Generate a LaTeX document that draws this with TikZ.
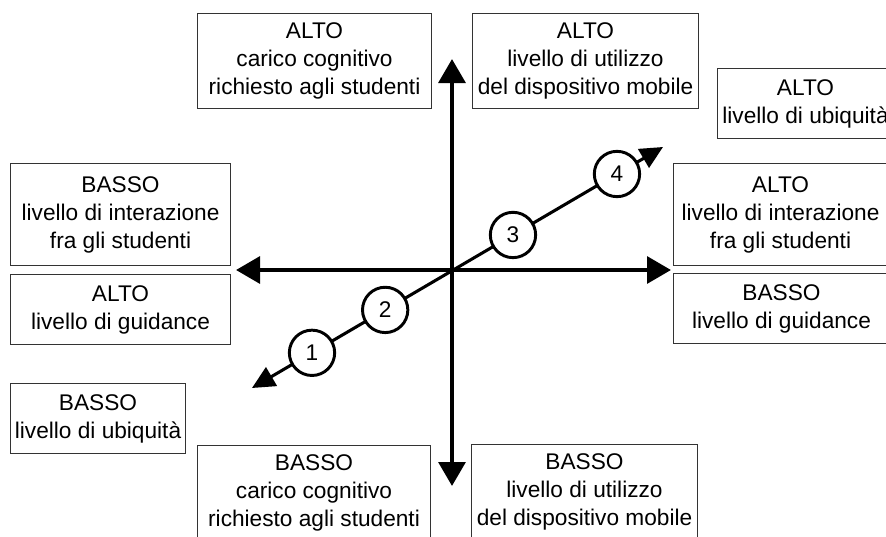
\documentclass[tikz,border=0pt]{standalone}
\usepackage{fontspec}
\setmainfont{Liberation Sans}
\usetikzlibrary{arrows.meta,calc}

\begin{document}
\begin{tikzpicture}[
    x=0.75pt, y=-0.75pt,
    levelbox/.style={rectangle, draw=black!80, line width=0.8pt, anchor=north west,
        align=center, inner sep=0pt, font=\fontsize{17}{21}\selectfont},
    tallbox/.style={levelbox, minimum height=71pt},
    sidebox/.style={levelbox, minimum height=76.5pt},
    shortbox/.style={levelbox, minimum height=52.5pt},
    stage/.style={circle, draw, line width=2.2pt, fill=white, minimum size=34pt,
        inner sep=0pt, font=\fontsize{17}{21}\selectfont},
    axis/.style={line width=3.2pt,
        {Triangle[length=18pt,width=20pt]}-{Triangle[length=18pt,width=20pt]}},
    diag/.style={line width=2.3pt,
        {Triangle[length=17pt,width=16pt]}-{Triangle[length=17pt,width=16pt]}}
]
\useasboundingbox (0,0) rectangle (886,536);
\clip (0,0) rectangle (886,536);

% axes
\coordinate (north) at (452,59);
\coordinate (south) at (452,486);
\coordinate (west) at (236,270);
\coordinate (east) at (671,270);
\coordinate (dl) at (252,388);
\coordinate (dr) at (663,147);
\draw[axis] (south) -- (north);
\draw[axis] (west) -- (east);
\draw[diag] (dl) -- (dr);

% stages along the diagonal
\node[stage] (s1) at ($(dl)!0.146!(dr)$) {1};
\node[stage] (s2) at ($(dl)!0.324!(dr)$) {2};
\node[stage] (s3) at ($(dl)!0.635!(dr)$) {3};
\node[stage] (s4) at ($(dl)!0.888!(dr)$) {4};

% top
\node[tallbox, minimum width=175.5pt] (hicog) at (197,13) {ALTO\\carico cognitivo\\richiesto agli studenti};
\node[tallbox, minimum width=169.5pt] (himob) at (472,13) {ALTO\\livello di utilizzo\\del dispositivo mobile};
\node[shortbox, minimum width=132pt] (hiubi) at (717,68) {ALTO\\livello di ubiquità};

% left and right
\node[sidebox, minimum width=165pt] (lointer) at (10,163) {BASSO\\livello di interazione\\fra gli studenti};
\node[shortbox, minimum width=165pt] (higuid) at (10,274) {ALTO\\livello di guidance};
\node[sidebox, minimum width=160.5pt] (hiinter) at (673,163) {ALTO\\livello di interazione\\fra gli studenti};
\node[shortbox, minimum width=162pt] (loguid) at (673,273) {BASSO\\livello di guidance};

% bottom
\node[shortbox, minimum width=131.25pt] (loubi) at (10,383) {BASSO\\livello di ubiquità};
\node[tallbox, minimum width=174.75pt] (locog) at (197,445) {BASSO\\carico cognitivo\\richiesto agli studenti};
\node[tallbox, minimum width=169.5pt] (lomob) at (471,444) {BASSO\\livello di utilizzo\\del dispositivo mobile};
\end{tikzpicture}
\end{document}
